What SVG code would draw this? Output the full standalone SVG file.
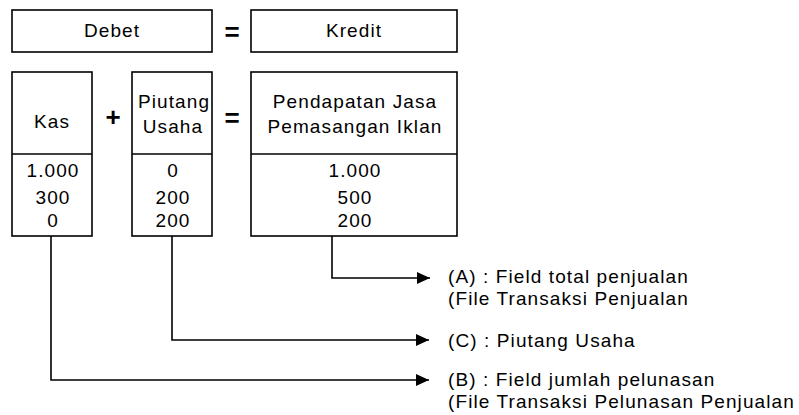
<svg xmlns="http://www.w3.org/2000/svg" width="799" height="415" viewBox="0 0 799 415">
  <style>
    .box { fill: #ffffff; stroke: #000000; stroke-width: 1.6; }
    .ln { fill: none; stroke: #000000; stroke-width: 1.6; }
    .t { font-family: "Liberation Sans", Arial, sans-serif; font-size: 19px; letter-spacing: 1.1px; fill: #000000; }
    .c { text-anchor: middle; }
    .op { font-family: "Liberation Sans", Arial, sans-serif; font-size: 26px; font-weight: bold; fill: #000000; text-anchor: middle; }
  </style>
  <defs>
    <marker id="arr" viewBox="0 0 13 12" refX="13" refY="6" markerWidth="13" markerHeight="12" markerUnits="userSpaceOnUse" orient="auto">
      <path d="M0,0 L13,6 L0,12 z" fill="#000000"/>
    </marker>
  </defs>
  <rect width="799" height="415" fill="#ffffff"/>

  <g id="debet">
    <rect class="box" x="12" y="10" width="200" height="42"/>
    <text class="t c" x="112" y="37">Debet</text>
  </g>
  <g id="eq-top">
    <text class="op" x="232" y="41">=</text>
  </g>
  <g id="kredit">
    <rect class="box" x="251" y="10" width="206" height="42"/>
    <text class="t c" x="354" y="37">Kredit</text>
  </g>

  <g id="kas">
    <rect class="box" x="12" y="72" width="80" height="164"/>
    <line class="ln" x1="12" y1="154" x2="92" y2="154"/>
    <text class="t c" x="52" y="128">Kas</text>
    <text class="t c" x="53" y="177">1.000</text>
    <text class="t c" x="53" y="204">300</text>
    <text class="t c" x="53" y="227">0</text>
  </g>
  <g id="plus">
    <text class="op" x="113" y="126">+</text>
  </g>
  <g id="piutang">
    <rect class="box" x="132" y="72" width="80" height="164"/>
    <line class="ln" x1="132" y1="154" x2="212" y2="154"/>
    <text class="t c" x="174" y="108">Piutang</text>
    <text class="t c" x="173" y="133">Usaha</text>
    <text class="t c" x="173" y="177">0</text>
    <text class="t c" x="173" y="204">200</text>
    <text class="t c" x="173" y="227">200</text>
  </g>
  <g id="eq-mid">
    <text class="op" x="232" y="127">=</text>
  </g>
  <g id="pendapatan">
    <rect class="box" x="251" y="72" width="206" height="164"/>
    <line class="ln" x1="251" y1="154" x2="457" y2="154"/>
    <text class="t c" x="355" y="108">Pendapatan Jasa</text>
    <text class="t c" x="355" y="133">Pemasangan Iklan</text>
    <text class="t c" x="355" y="177">1.000</text>
    <text class="t c" x="355" y="204">500</text>
    <text class="t c" x="355" y="227">200</text>
  </g>

  <g id="connectors">
    <path class="ln" d="M332,236 V278 H430" marker-end="url(#arr)"/>
    <path class="ln" d="M172,236 V340 H429" marker-end="url(#arr)"/>
    <path class="ln" d="M51,236 V380 H429" marker-end="url(#arr)"/>
  </g>

  <g id="label-a">
    <text class="t" x="448" y="283">(A) : Field total penjualan</text>
    <text class="t" x="448" y="305">(File Transaksi Penjualan</text>
  </g>
  <g id="label-c">
    <text class="t" x="448" y="347">(C) : Piutang Usaha</text>
  </g>
  <g id="label-b">
    <text class="t" x="448" y="386">(B) : Field jumlah pelunasan</text>
    <text class="t" x="448" y="408">(File Transaksi Pelunasan Penjualan</text>
  </g>
</svg>
